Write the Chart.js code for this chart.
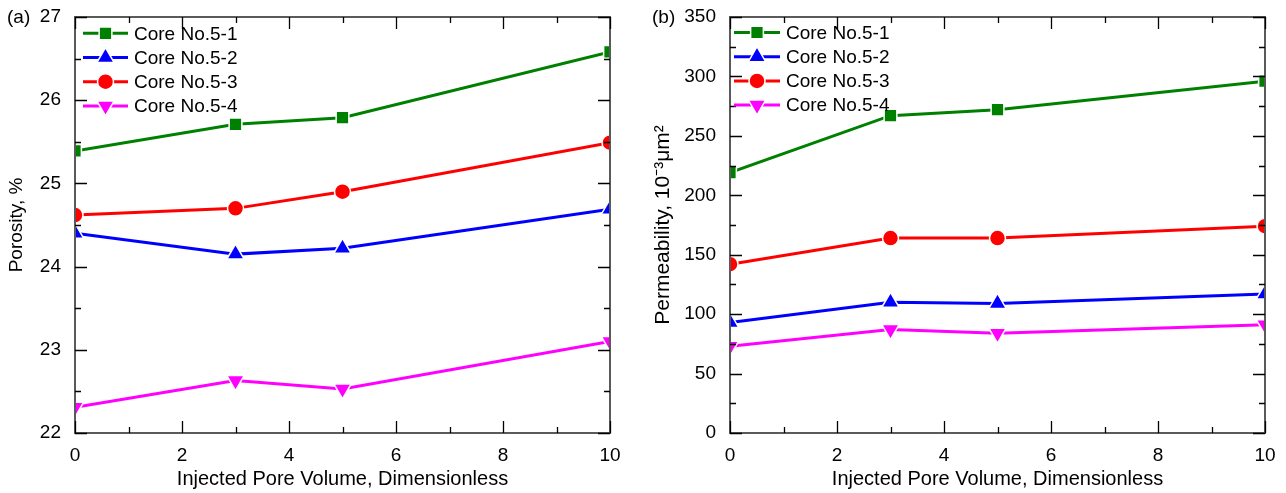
<!DOCTYPE html>
<html>
<head>
<meta charset="utf-8">
<script src="https://cdn.jsdelivr.net/npm/chart.js@4.4.1/dist/chart.umd.min.js"></script>
<style>
  html, body { margin: 0; padding: 0; background: #fff; }
  #wrap { position: relative; width: 1286px; height: 493px; overflow: hidden; }
  .panel { position: absolute; top: 0; height: 493px; width: 643px; }
  #pa { left: 0; }
  #pb { left: 643px; }
</style>
</head>
<body>
<div id="wrap">
  <div class="panel" id="pa"><canvas id="c1" width="643" height="493"></canvas></div>
  <div class="panel" id="pb"><canvas id="c2" width="643" height="493"></canvas></div>
</div>
<script>
// ---- data ----
const pv = [0, 3, 5, 10];
const seriesNames = ['Core No.5-1', 'Core No.5-2', 'Core No.5-3', 'Core No.5-4'];
const seriesColors = ['#008000', '#0000ff', '#ff0000', '#ff00ff'];
const porosity51 = [25.39, 25.71, 25.79, 26.58];
const porosity52 = [24.40, 24.15, 24.22, 24.69];
const porosity53 = [24.62, 24.70, 24.90, 25.49];
const porosity54 = [22.31, 22.63, 22.53, 23.10];
const perm51 = [219, 267, 272, 296];
const perm52 = [93, 110, 109, 117];
const perm53 = [142, 164, 164, 174];
const perm54 = [73, 87, 84, 91];
const xTicks = [0, 2, 4, 6, 8, 10];
const porosityTicks = [22, 23, 24, 25, 26, 27];
const permTicks = [0, 50, 100, 150, 200, 250, 300, 350];

const FONT = "'Liberation Sans', Arial, sans-serif";
const markerStyles = [
  { style: 'rect', radius: 9, rotation: 0 },
  { style: 'triangle', radius: 10, rotation: 0 },
  { style: 'circle', radius: 8, rotation: 0 },
  { style: 'triangle', radius: 10, rotation: 180 }
];

function makeDatasets(arrays) {
  return arrays.map((arr, i) => ({
    label: seriesNames[i],
    data: arr.map((v, k) => ({ x: pv[k], y: v })),
    borderColor: seriesColors[i],
    backgroundColor: seriesColors[i],
    borderWidth: 3,
    pointStyle: markerStyles[i].style,
    pointRadius: markerStyles[i].radius,
    pointRotation: markerStyles[i].rotation,
    pointBackgroundColor: seriesColors[i],
    pointBorderColor: '#ffffff',
    pointBorderWidth: 1.5,
    pointHoverRadius: markerStyles[i].radius,
    clip: 0,
    tension: 0,
    fill: false
  }));
}

function drawMarker(ctx, style, rot, r, x, y, color) {
  ctx.save();
  ctx.fillStyle = color;
  ctx.strokeStyle = '#fff';
  ctx.lineWidth = 1.5;
  ctx.beginPath();
  if (style === 'rect') {
    const s = r * Math.SQRT1_2;
    ctx.rect(x - s, y - s, 2 * s, 2 * s);
  } else if (style === 'circle') {
    ctx.arc(x, y, r, 0, Math.PI * 2);
  } else {
    let a = rot * Math.PI / 180;
    ctx.moveTo(x + Math.sin(a) * r, y - Math.cos(a) * r);
    a += 2 * Math.PI / 3;
    ctx.lineTo(x + Math.sin(a) * r, y - Math.cos(a) * r);
    a += 2 * Math.PI / 3;
    ctx.lineTo(x + Math.sin(a) * r, y - Math.cos(a) * r);
    ctx.closePath();
  }
  ctx.fill();
  ctx.stroke();
  ctx.restore();
}

// frame with inward major/minor ticks, legend, panel label
function framePlugin(cfg) {
  return {
    id: 'frame_' + cfg.tag,
    afterDraw(chart) {
      const ctx = chart.ctx;
      const a = chart.chartArea;
      const xs = chart.scales.x, ys = chart.scales.y;
      ctx.save();
      // frame
      ctx.strokeStyle = '#5a5a5a';
      ctx.lineWidth = 2;
      ctx.strokeRect(a.left, a.top, a.right - a.left, a.bottom - a.top);
      // ticks
      ctx.strokeStyle = '#000';
      ctx.lineWidth = 1.3;
      ctx.beginPath();
      for (let v = xs.min; v <= xs.max + 1e-9; v += cfg.xMinor) {
        const isMajor = Math.abs(v / cfg.xMajor - Math.round(v / cfg.xMajor)) < 1e-6;
        const len = isMajor ? 12 : 6;
        const px = Math.round(xs.getPixelForValue(v)) + 0.5;
        ctx.moveTo(px, a.bottom); ctx.lineTo(px, a.bottom - len);
        ctx.moveTo(px, a.top); ctx.lineTo(px, a.top + len);
      }
      for (let v = ys.min; v <= ys.max + 1e-9; v += cfg.yMinor) {
        const isMajor = Math.abs(v / cfg.yMajor - Math.round(v / cfg.yMajor)) < 1e-6;
        const len = isMajor ? 12 : 6;
        const py = Math.round(ys.getPixelForValue(v)) + 0.5;
        ctx.moveTo(a.left, py); ctx.lineTo(a.left + len, py);
        ctx.moveTo(a.right, py); ctx.lineTo(a.right - len, py);
      }
      ctx.stroke();
      // legend
      ctx.font = '19px ' + FONT;
      ctx.textBaseline = 'middle';
      ctx.textAlign = 'left';
      chart.data.datasets.forEach((ds, i) => {
        const y = a.top + cfg.legTop + i * 24.2;
        ctx.strokeStyle = ds.borderColor;
        ctx.lineWidth = 3;
        ctx.beginPath();
        ctx.moveTo(a.left + cfg.legX0, y);
        ctx.lineTo(a.left + cfg.legX1, y);
        ctx.stroke();
        drawMarker(ctx, markerStyles[i].style, markerStyles[i].rotation, markerStyles[i].radius,
          a.left + (cfg.legX0 + cfg.legX1) / 2, y, ds.borderColor);
        ctx.fillStyle = '#000';
        ctx.fillText(ds.label, a.left + cfg.legText, y + 1);
      });
      // panel label
      ctx.font = '19px ' + FONT;
      ctx.fillStyle = '#000';
      ctx.textAlign = 'left';
      ctx.fillText(cfg.panel, cfg.panelX, a.top + 1);
      ctx.restore();
    }
  };
}

function makeChart(id, arrays, yMin, yMax, yTickList, yTitle, yTitleSize, padRight, yWidth, yTitlePad, cfg) {
  return new Chart(document.getElementById(id), {
    type: 'line',
    data: { datasets: makeDatasets(arrays) },
    options: {
      responsive: false,
      animation: false,
      events: [],
      layout: { padding: { top: 17, right: padRight, left: 0, bottom: 0 } },
      plugins: { legend: { display: false }, tooltip: { enabled: false } },
      scales: {
        x: {
          type: 'linear', min: 0, max: 10,
          afterBuildTicks(s) { s.ticks = xTicks.map(v => ({ value: v })); },
          afterFit(s) { s.height = 60; s.paddingLeft = 0; s.paddingRight = 0; },
          grid: { display: false, drawTicks: false },
          border: { display: false },
          ticks: { color: '#000', font: { family: FONT, size: 19 }, padding: 11, maxRotation: 0 },
          title: { display: true, text: 'Injected Pore Volume, Dimensionless', color: '#000',
                   font: { family: FONT, size: 20 }, padding: { top: 0, bottom: 2 } }
        },
        y: {
          type: 'linear', min: yMin, max: yMax,
          afterBuildTicks(s) { s.ticks = yTickList.map(v => ({ value: v })); },
          afterFit(s) { s.width = yWidth; s.paddingTop = 0; s.paddingBottom = 0; },
          grid: { display: false, drawTicks: false },
          border: { display: false },
          ticks: { color: '#000', font: { family: FONT, size: 19 }, padding: 14 },
          title: { display: true, text: yTitle, color: '#000',
                   font: { family: FONT, size: yTitleSize }, padding: { top: yTitlePad, bottom: 0 } }
        }
      }
    },
    plugins: [framePlugin(cfg)]
  });
}

makeChart('c1', [porosity51, porosity52, porosity53, porosity54], 22, 27, porosityTicks,
  'Porosity, %', 19, 33, 75, 5,
  { tag: 'a', xMajor: 2, xMinor: 1, yMajor: 1, yMinor: 0.5, legTop: 16.3, legX0: 8, legX1: 53, legText: 59, panel: '(a)', panelX: 7 });
makeChart('c2', [perm51, perm52, perm53, perm54], 0, 350, permTicks,
  'Permeability, 10⁻³μm²', 21, 21, 87, 8,
  { tag: 'b', xMajor: 2, xMinor: 1, yMajor: 50, yMinor: 25, legTop: 15.5, legX0: 4, legX1: 50, legText: 56, panel: '(b)', panelX: 9 });
</script>
</body>
</html>
